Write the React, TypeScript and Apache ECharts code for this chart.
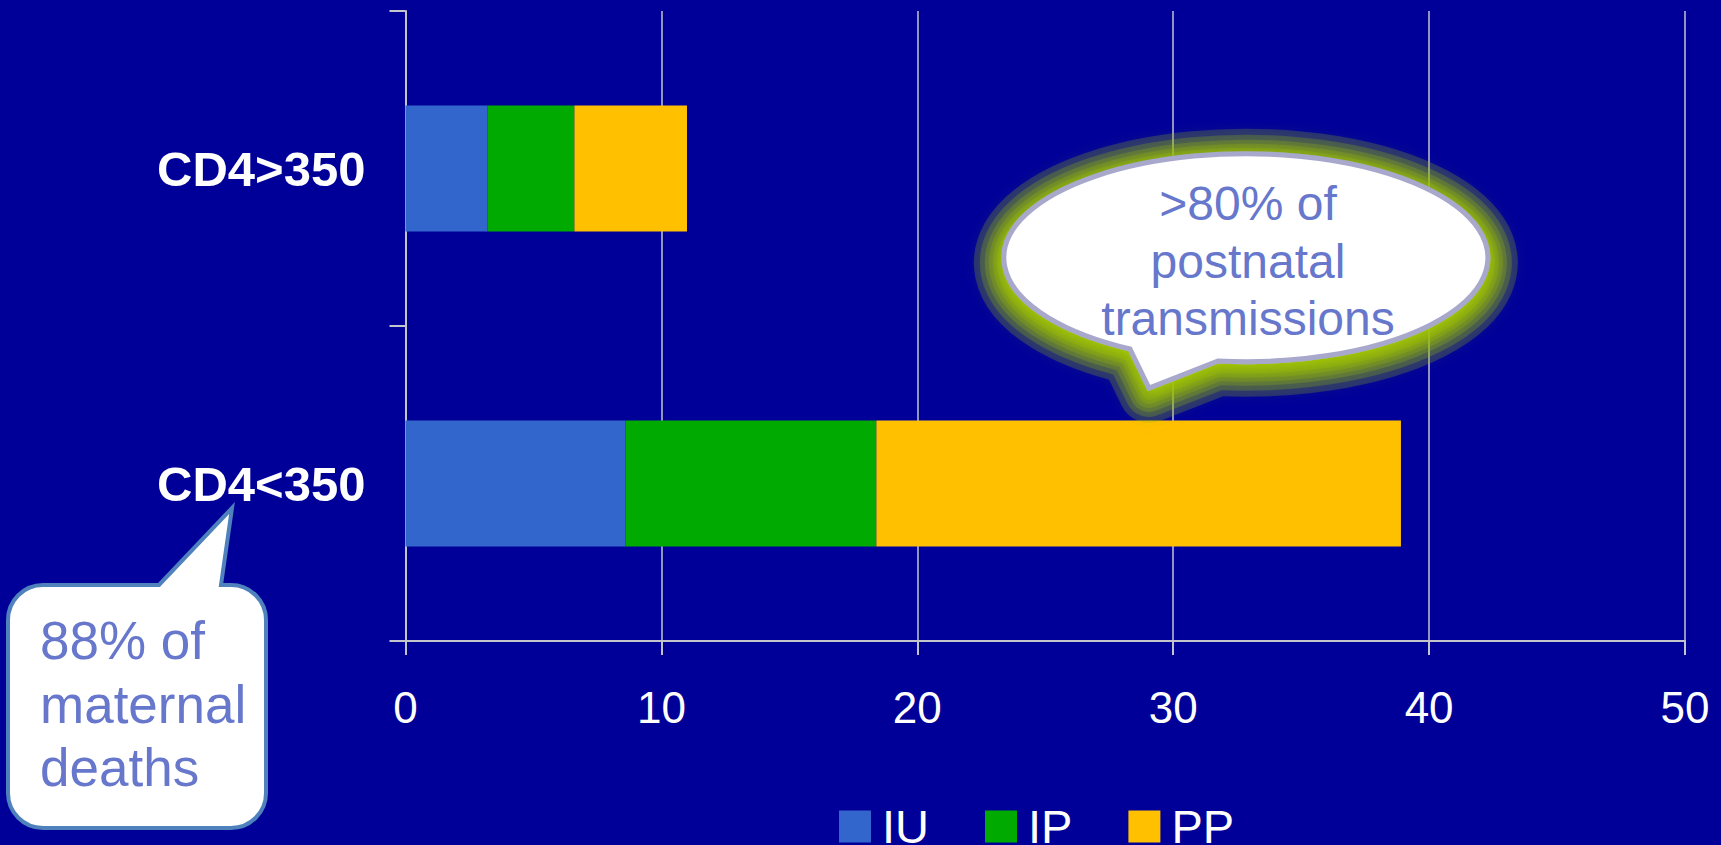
import React, { useEffect, useRef } from "react";
import * as echarts from "echarts";

// Mother-to-child transmission by timing, grouped by maternal CD4 count
const categories = ["CD4<350", "CD4>350"];
const seriesNames = ["IU", "IP", "PP"];
const iuValues = [8.6, 3.2];
const ipValues = [9.8, 3.4];
const ppValues = [20.5, 4.4];
const xTicks = { min: 0, max: 50, interval: 10 };

const ovalNote = [">80% of", "postnatal", "transmissions"];
const boxNote = ["88% of", "maternal", "deaths"];

const FONT = "'Liberation Sans', Arial, Helvetica, sans-serif";
const BG = "#000099";
const AXIS = "#c4c4cc";
const NOTE_TEXT = "#6677cc";

// Speech-bubble outlines
const OVAL_D =
  "M 1130 349 L 1149 388 L 1218 361 A 242 104 0 1 0 1130 349 Z";
const BOX_D =
  "M 43 585 L 159 585 L 232 508 L 221 585 L 231 585 " +
  "A 35 35 0 0 1 266 620 L 266 793 A 35 35 0 0 1 231 828 " +
  "L 43 828 A 35 35 0 0 1 8 793 L 8 620 A 35 35 0 0 1 43 585 Z";

echarts.graphic.registerShape("ovalBubble", echarts.graphic.extendPath(OVAL_D, {}));
echarts.graphic.registerShape("boxBubble", echarts.graphic.extendPath(BOX_D, {}));

// widths of the stacked translucent strokes forming the halo
const haloWidths = [60, 48, 38, 30, 22, 14];

export default function App() {
  const ref = useRef<HTMLDivElement>(null);

  useEffect(() => {
    if (!ref.current) return;
    const chart = echarts.init(ref.current, null, { renderer: "svg" });

    const colors = ["#3366cc", "#00aa00", "#ffc000"];
    const values = [iuValues, ipValues, ppValues];

    const halo = haloWidths.map((w, i) => ({
      type: "ovalBubble",
      z: 90 + i,
      y: 5,
      style: {
        fill: "none",
        stroke: "rgba(150,190,0,0.24)",
        lineWidth: w,
        lineJoin: "round",
        shadowColor: "rgba(150,190,0,0.24)",
        shadowBlur: 14,
      },
    }));

    chart.setOption({
      animation: false,
      backgroundColor: BG,
      textStyle: { fontFamily: FONT },
      grid: { left: 405.5, right: 36, top: 11, bottom: 204, containLabel: false },
      legend: {
        data: seriesNames,
        icon: "rect",
        itemWidth: 32,
        itemHeight: 32,
        itemGap: 56,
        left: 834,
        top: 798,
        textStyle: {
          color: "#ffffff",
          fontSize: 47,
          lineHeight: 34,
          padding: [0, 0, 0, 6],
          fontFamily: FONT,
        },
      },
      xAxis: {
        type: "value",
        min: xTicks.min,
        max: xTicks.max,
        interval: xTicks.interval,
        axisLine: { show: true, lineStyle: { color: AXIS, width: 2 } },
        axisTick: { show: true, length: 14, lineStyle: { color: AXIS, width: 2 } },
        splitLine: { show: true, lineStyle: { color: AXIS, width: 1.5 } },
        axisLabel: { color: "#ffffff", fontSize: 44, margin: 44, fontFamily: FONT },
      },
      yAxis: {
        type: "category",
        data: categories,
        axisLine: { show: true, lineStyle: { color: AXIS, width: 2 } },
        axisTick: { show: true, length: 16, lineStyle: { color: AXIS, width: 2 } },
        axisLabel: {
          color: "#ffffff",
          fontSize: 49,
          fontWeight: "bold",
          margin: 40,
          fontFamily: FONT,
        },
      },
      series: seriesNames.map((name, i) => ({
        name,
        type: "bar",
        stack: "total",
        barWidth: "40%",
        itemStyle: { color: colors[i] },
        data: values[i],
      })),
      graphic: [
        ...halo,
        {
          type: "ovalBubble",
          z: 100,
          style: {
            fill: "#ffffff",
            stroke: "#a8a8cc",
            lineWidth: 5,
            shadowColor: "rgba(170,205,0,1)",
            shadowBlur: 14,
            shadowOffsetY: 4,
          },
        },
        {
          type: "text",
          z: 101,
          x: 1248,
          y: 261,
          style: {
            text: ovalNote.join("\n"),
            fill: NOTE_TEXT,
            font: `48px ${FONT}`,
            lineHeight: 57.5,
            align: "center",
            verticalAlign: "middle",
          },
        },
        {
          type: "boxBubble",
          z: 100,
          style: { fill: "#ffffff", stroke: "#4f81bd", lineWidth: 4 },
        },
        {
          type: "text",
          z: 101,
          x: 40,
          y: 704,
          style: {
            text: boxNote.join("\n"),
            fill: NOTE_TEXT,
            font: `53px ${FONT}`,
            lineHeight: 63.5,
            align: "left",
            verticalAlign: "middle",
          },
        },
      ],
    });

    return () => chart.dispose();
  }, []);

  return (
    <div
      ref={ref}
      style={{ position: "fixed", left: 0, top: 0, width: "1721px", height: "845px" }}
    />
  );
}
